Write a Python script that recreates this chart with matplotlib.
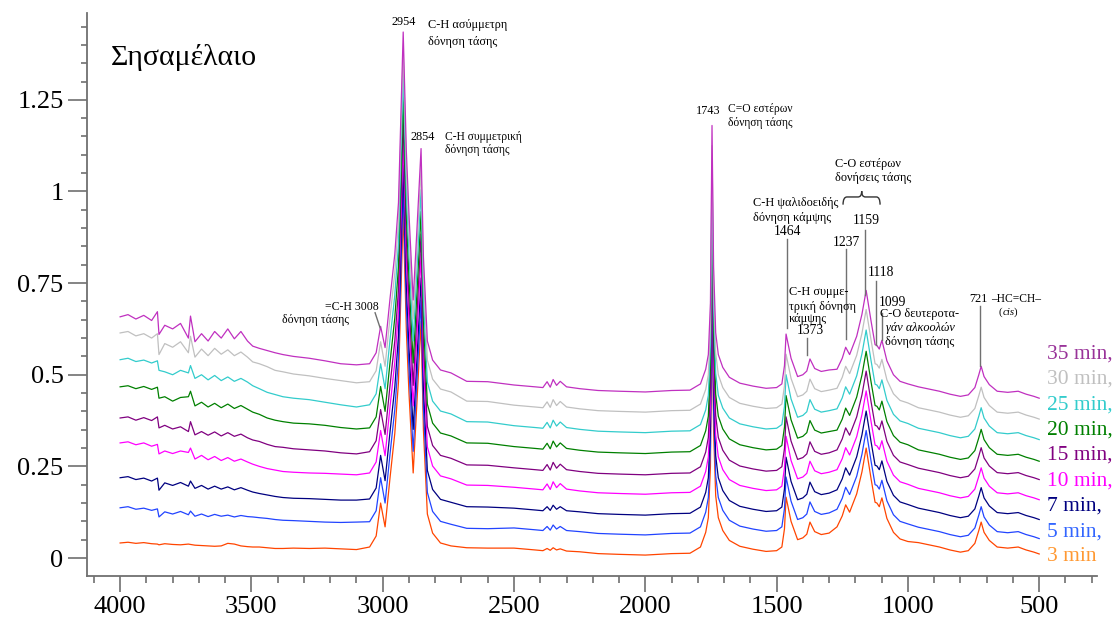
import matplotlib
matplotlib.use("Agg")
import matplotlib.pyplot as plt
from matplotlib.path import Path
from matplotlib.patches import PathPatch
from matplotlib.ticker import MultipleLocator

plt.rcParams['font.family'] = ['Liberation Serif', 'DejaVu Serif']

# wavenumbers (cm-1) shared by all spectra
wn = [4000, 3970, 3940, 3910, 3880, 3858, 3852, 3830, 3800, 3770, 3740, 3732, 3715,
      3690, 3665, 3640, 3615, 3590, 3565, 3540, 3515, 3495, 3470, 3440, 3410, 3380,
      3340, 3280, 3220, 3160, 3100,
      3050, 3025, 3008, 2991, 2972, 2954, 2940, 2922, 2910, 2900,
      2884, 2870, 2854, 2845, 2830, 2810, 2780, 2740, 2680, 2600,
      2500, 2420, 2390, 2374, 2362, 2351, 2338, 2324, 2300, 2250,
      2180, 2100, 2000, 1900, 1830, 1790, 1770, 1760, 1752, 1746,
      1740, 1732, 1722, 1705, 1680, 1640, 1590, 1540, 1500, 1480,
      1470, 1464, 1445, 1420, 1400, 1385, 1373, 1355, 1330, 1300,
      1270, 1250, 1237, 1222, 1195, 1175, 1159, 1140, 1125, 1118,
      1109, 1099, 1080, 1055, 1030, 1000, 960, 920, 880, 840,
      800, 770, 745, 730, 721, 710, 690, 660, 620, 580,
      550, 520, 500]

a35 = [0.658, 0.664, 0.652, 0.662, 0.648, 0.672, 0.610, 0.635, 0.625, 0.640, 0.600, 0.660, 0.590,
       0.612, 0.592, 0.618, 0.600, 0.625, 0.598, 0.618, 0.592, 0.578, 0.572, 0.566, 0.560, 0.555,
       0.550, 0.545, 0.538, 0.530, 0.527,
       0.530, 0.560, 0.632, 0.574, 0.709, 0.829, 0.969, 1.435, 1.109, 0.939,
       0.704, 0.892, 1.117, 0.822, 0.592, 0.540, 0.513, 0.505, 0.482, 0.481,
       0.472, 0.467, 0.465, 0.481, 0.466, 0.487, 0.471, 0.482, 0.467, 0.462,
       0.457, 0.455, 0.453, 0.457, 0.458, 0.475, 0.515, 0.555, 0.695, 1.180,
       0.795, 0.615, 0.555, 0.520, 0.493, 0.477, 0.469, 0.463, 0.465, 0.475,
       0.525, 0.611, 0.545, 0.495, 0.500, 0.510, 0.543, 0.517, 0.509, 0.513,
       0.515, 0.545, 0.575, 0.555, 0.605, 0.665, 0.730, 0.645, 0.582, 0.580,
       0.570, 0.594, 0.538, 0.500, 0.482, 0.475, 0.467, 0.461, 0.455, 0.447,
       0.441, 0.445, 0.465, 0.500, 0.523, 0.495, 0.473, 0.455, 0.452, 0.455,
       0.447, 0.441, 0.436]

a30 = [0.614, 0.618, 0.606, 0.612, 0.600, 0.612, 0.555, 0.585, 0.575, 0.590, 0.560, 0.605, 0.548,
       0.570, 0.552, 0.572, 0.556, 0.568, 0.552, 0.562, 0.548, 0.535, 0.530, 0.522, 0.512, 0.508,
       0.502, 0.497, 0.490, 0.484, 0.478,
       0.481, 0.511, 0.590, 0.523, 0.658, 0.778, 0.918, 1.384, 1.058, 0.888,
       0.652, 0.840, 1.065, 0.770, 0.540, 0.488, 0.461, 0.453, 0.428, 0.427,
       0.417, 0.412, 0.410, 0.426, 0.411, 0.432, 0.416, 0.427, 0.412, 0.407,
       0.402, 0.400, 0.398, 0.402, 0.403, 0.420, 0.460, 0.500, 0.640, 1.125,
       0.740, 0.560, 0.500, 0.465, 0.438, 0.422, 0.414, 0.408, 0.410, 0.420,
       0.470, 0.556, 0.490, 0.440, 0.445, 0.455, 0.488, 0.462, 0.454, 0.458,
       0.463, 0.493, 0.523, 0.503, 0.553, 0.613, 0.678, 0.593, 0.530, 0.528,
       0.518, 0.542, 0.486, 0.448, 0.430, 0.423, 0.410, 0.404, 0.398, 0.390,
       0.384, 0.388, 0.408, 0.443, 0.466, 0.438, 0.416, 0.398, 0.395, 0.398,
       0.390, 0.384, 0.379]

a25 = [0.541, 0.545, 0.536, 0.540, 0.532, 0.538, 0.512, 0.508, 0.500, 0.512, 0.505, 0.525, 0.490,
       0.500, 0.486, 0.498, 0.484, 0.494, 0.482, 0.490, 0.480, 0.470, 0.462, 0.452, 0.446, 0.440,
       0.436, 0.432, 0.425, 0.418, 0.412,
       0.418, 0.448, 0.530, 0.462, 0.597, 0.717, 0.857, 1.323, 0.997, 0.827,
       0.592, 0.780, 1.005, 0.710, 0.480, 0.428, 0.401, 0.393, 0.372, 0.371,
       0.361, 0.356, 0.354, 0.370, 0.355, 0.376, 0.360, 0.371, 0.356, 0.351,
       0.346, 0.344, 0.342, 0.346, 0.347, 0.364, 0.404, 0.444, 0.584, 1.069,
       0.684, 0.504, 0.444, 0.409, 0.382, 0.366, 0.358, 0.352, 0.354, 0.364,
       0.414, 0.500, 0.434, 0.384, 0.389, 0.399, 0.432, 0.406, 0.398, 0.402,
       0.407, 0.437, 0.467, 0.447, 0.497, 0.557, 0.622, 0.537, 0.474, 0.472,
       0.462, 0.486, 0.430, 0.392, 0.374, 0.367, 0.354, 0.348, 0.342, 0.334,
       0.328, 0.332, 0.352, 0.387, 0.410, 0.382, 0.360, 0.342, 0.339, 0.342,
       0.334, 0.328, 0.323]

a20 = [0.467, 0.470, 0.462, 0.468, 0.460, 0.466, 0.436, 0.440, 0.428, 0.438, 0.440, 0.455, 0.415,
       0.425, 0.412, 0.422, 0.410, 0.420, 0.408, 0.416, 0.406, 0.398, 0.392, 0.382, 0.376, 0.372,
       0.368, 0.366, 0.362, 0.356, 0.352,
       0.355, 0.385, 0.468, 0.400, 0.535, 0.655, 0.795, 1.261, 0.935, 0.765,
       0.532, 0.720, 0.945, 0.650, 0.420, 0.368, 0.341, 0.333, 0.314, 0.313,
       0.304, 0.299, 0.297, 0.313, 0.298, 0.319, 0.303, 0.314, 0.299, 0.294,
       0.289, 0.287, 0.285, 0.289, 0.290, 0.307, 0.347, 0.387, 0.527, 1.012,
       0.627, 0.447, 0.387, 0.352, 0.325, 0.309, 0.301, 0.295, 0.297, 0.307,
       0.357, 0.443, 0.377, 0.327, 0.332, 0.342, 0.375, 0.349, 0.341, 0.345,
       0.349, 0.379, 0.409, 0.389, 0.439, 0.499, 0.564, 0.479, 0.416, 0.414,
       0.404, 0.428, 0.372, 0.334, 0.316, 0.309, 0.295, 0.289, 0.283, 0.275,
       0.269, 0.273, 0.293, 0.328, 0.351, 0.323, 0.301, 0.283, 0.280, 0.283,
       0.275, 0.269, 0.264]

a15 = [0.382, 0.385, 0.376, 0.383, 0.375, 0.385, 0.355, 0.362, 0.352, 0.358, 0.345, 0.372, 0.336,
       0.345, 0.335, 0.344, 0.333, 0.342, 0.332, 0.338, 0.328, 0.322, 0.318, 0.310, 0.304, 0.302,
       0.298, 0.295, 0.292, 0.287, 0.284,
       0.290, 0.320, 0.405, 0.337, 0.472, 0.592, 0.732, 1.198, 0.872, 0.702,
       0.471, 0.659, 0.884, 0.589, 0.359, 0.307, 0.280, 0.272, 0.254, 0.253,
       0.246, 0.241, 0.239, 0.255, 0.240, 0.261, 0.245, 0.256, 0.241, 0.236,
       0.231, 0.229, 0.227, 0.231, 0.232, 0.249, 0.289, 0.329, 0.469, 0.954,
       0.569, 0.389, 0.329, 0.294, 0.267, 0.251, 0.243, 0.237, 0.239, 0.249,
       0.299, 0.385, 0.319, 0.269, 0.274, 0.284, 0.317, 0.291, 0.283, 0.287,
       0.295, 0.325, 0.355, 0.335, 0.385, 0.445, 0.510, 0.425, 0.362, 0.360,
       0.350, 0.374, 0.318, 0.280, 0.262, 0.255, 0.245, 0.239, 0.233, 0.225,
       0.219, 0.223, 0.243, 0.278, 0.301, 0.273, 0.251, 0.233, 0.230, 0.233,
       0.225, 0.219, 0.214]

a10 = [0.314, 0.317, 0.309, 0.314, 0.305, 0.310, 0.284, 0.292, 0.285, 0.292, 0.288, 0.300, 0.270,
       0.280, 0.268, 0.277, 0.266, 0.274, 0.264, 0.270, 0.262, 0.256, 0.250, 0.244, 0.240, 0.236,
       0.234, 0.232, 0.231, 0.229, 0.227,
       0.232, 0.262, 0.348, 0.279, 0.414, 0.534, 0.674, 1.140, 0.814, 0.644,
       0.415, 0.603, 0.828, 0.533, 0.303, 0.251, 0.224, 0.216, 0.199, 0.198,
       0.193, 0.188, 0.186, 0.202, 0.187, 0.208, 0.192, 0.203, 0.188, 0.183,
       0.178, 0.176, 0.174, 0.178, 0.179, 0.196, 0.236, 0.276, 0.416, 0.901,
       0.516, 0.336, 0.276, 0.241, 0.214, 0.198, 0.190, 0.184, 0.186, 0.196,
       0.246, 0.332, 0.266, 0.216, 0.221, 0.231, 0.264, 0.238, 0.230, 0.234,
       0.241, 0.271, 0.301, 0.281, 0.331, 0.391, 0.456, 0.371, 0.308, 0.306,
       0.296, 0.320, 0.264, 0.226, 0.208, 0.201, 0.190, 0.184, 0.178, 0.170,
       0.164, 0.168, 0.188, 0.223, 0.246, 0.218, 0.196, 0.178, 0.175, 0.178,
       0.170, 0.164, 0.159]

a7 = [0.219, 0.222, 0.214, 0.218, 0.210, 0.218, 0.185, 0.205, 0.198, 0.206, 0.196, 0.210, 0.190,
      0.198, 0.188, 0.196, 0.188, 0.194, 0.186, 0.192, 0.185, 0.180, 0.176, 0.172, 0.168, 0.165,
      0.163, 0.162, 0.160, 0.158, 0.158,
      0.161, 0.191, 0.280, 0.211, 0.346, 0.466, 0.606, 1.072, 0.746, 0.576,
      0.351, 0.539, 0.764, 0.469, 0.239, 0.187, 0.160, 0.152, 0.140, 0.139,
      0.136, 0.131, 0.129, 0.140, 0.130, 0.144, 0.133, 0.140, 0.129, 0.126,
      0.121, 0.119, 0.117, 0.121, 0.122, 0.139, 0.179, 0.219, 0.359, 0.844,
      0.459, 0.279, 0.219, 0.184, 0.157, 0.141, 0.133, 0.127, 0.129, 0.139,
      0.189, 0.275, 0.209, 0.159, 0.164, 0.174, 0.207, 0.181, 0.173, 0.177,
      0.186, 0.216, 0.246, 0.226, 0.276, 0.336, 0.401, 0.316, 0.253, 0.251,
      0.241, 0.265, 0.209, 0.171, 0.153, 0.146, 0.136, 0.130, 0.124, 0.116,
      0.110, 0.114, 0.134, 0.169, 0.192, 0.164, 0.142, 0.124, 0.121, 0.124,
      0.116, 0.110, 0.105]

a5 = [0.137, 0.140, 0.133, 0.136, 0.130, 0.134, 0.112, 0.126, 0.120, 0.127, 0.118, 0.128, 0.114,
      0.120, 0.113, 0.119, 0.114, 0.117, 0.112, 0.116, 0.113, 0.112, 0.110, 0.108, 0.105, 0.103,
      0.102, 0.100, 0.098, 0.097, 0.098,
      0.099, 0.129, 0.219, 0.150, 0.285, 0.405, 0.545, 1.011, 0.685, 0.515,
      0.291, 0.479, 0.704, 0.409, 0.179, 0.127, 0.100, 0.092, 0.081, 0.080,
      0.082, 0.077, 0.075, 0.086, 0.076, 0.090, 0.079, 0.086, 0.075, 0.072,
      0.067, 0.065, 0.063, 0.067, 0.068, 0.085, 0.125, 0.165, 0.305, 0.790,
      0.405, 0.225, 0.165, 0.130, 0.103, 0.087, 0.079, 0.073, 0.075, 0.085,
      0.135, 0.221, 0.155, 0.105, 0.110, 0.120, 0.153, 0.127, 0.119, 0.123,
      0.133, 0.163, 0.193, 0.173, 0.223, 0.283, 0.348, 0.263, 0.200, 0.198,
      0.188, 0.212, 0.156, 0.118, 0.100, 0.093, 0.084, 0.078, 0.072, 0.064,
      0.058, 0.062, 0.082, 0.117, 0.140, 0.112, 0.090, 0.072, 0.069, 0.072,
      0.064, 0.058, 0.053]

a3 = [0.041, 0.043, 0.040, 0.042, 0.039, 0.038, 0.036, 0.039, 0.037, 0.036, 0.038, 0.037, 0.035,
      0.034, 0.033, 0.032, 0.033, 0.040, 0.038, 0.033, 0.031, 0.030, 0.030, 0.028, 0.026, 0.026,
      0.027, 0.026, 0.027, 0.025, 0.023,
      0.030, 0.060, 0.150, 0.085, 0.220, 0.340, 0.480, 0.946, 0.620, 0.450,
      0.232, 0.420, 0.645, 0.350, 0.120, 0.068, 0.041, 0.033, 0.028, 0.027,
      0.027, 0.022, 0.020, 0.026, 0.021, 0.028, 0.022, 0.025, 0.019, 0.017,
      0.012, 0.010, 0.008, 0.012, 0.013, 0.030, 0.070, 0.110, 0.250, 0.735,
      0.350, 0.170, 0.110, 0.075, 0.048, 0.032, 0.024, 0.018, 0.020, 0.030,
      0.080, 0.166, 0.100, 0.050, 0.055, 0.065, 0.098, 0.072, 0.064, 0.068,
      0.085, 0.115, 0.145, 0.125, 0.175, 0.235, 0.300, 0.215, 0.152, 0.150,
      0.140, 0.164, 0.108, 0.070, 0.052, 0.045, 0.042, 0.036, 0.030, 0.022,
      0.016, 0.020, 0.040, 0.075, 0.098, 0.070, 0.048, 0.030, 0.027, 0.030,
      0.022, 0.016, 0.011]

labels = ["3 min", "5 min,", "7 min,", "10 min,", "15 min,", "20 min,", "25 min,", "30 min,", "35 min,"]
spectra = [a3, a5, a7, a10, a15, a20, a25, a30, a35]
line_colors = ["#FF4500", "#2244FF", "#000080", "#FF00FF", "#800080",
               "#008000", "#33CCCC", "#C0C0C0", "#C030C0"]
label_colors = ["#FF9933", "#3366FF", "#000080", "#FF00FF", "#800080",
                "#008000", "#33CCCC", "#C0C0C0", "#993399"]

fig = plt.figure(figsize=(11.13, 6.17), dpi=100)
ax = fig.add_axes([0.0782, 0.0665, 0.9074, 0.9125])

for vals, col in zip(spectra, line_colors):
    ax.plot(wn, vals, color=col, lw=0.9)

ax.set_xlim(4126, 280)
ax.set_ylim(-0.049, 1.487)

gray = "#707070"
for s in ["top", "right"]:
    ax.spines[s].set_visible(False)
for s in ["left", "bottom"]:
    ax.spines[s].set_color(gray)
    ax.spines[s].set_linewidth(1.3)

ax.set_xticks([4000, 3500, 3000, 2500, 2000, 1500, 1000, 500])
ax.set_xticklabels(["4000", "3500", "3000", "2500", "2000", "1500", "1000", "500"])
ax.xaxis.set_minor_locator(MultipleLocator(100))
ax.set_yticks([0, 0.25, 0.5, 0.75, 1, 1.25])
ax.set_yticklabels(["0", "0.25", "0.5", "0.75", "1", "1.25"])
ax.yaxis.set_minor_locator(MultipleLocator(0.05))
ax.tick_params(axis="x", which="major", length=11.5, width=1.2, color=gray, labelsize=19, pad=3)
ax.tick_params(axis="x", which="minor", length=5, width=1.2, color=gray)
ax.tick_params(axis="y", which="major", length=14, width=1.2, color=gray, labelsize=19, pad=3)
ax.tick_params(axis="y", which="minor", length=4.5, width=1.2, color=gray)

ax.text(0.024, 0.908, "Σησαμέλαιο", transform=ax.transAxes, fontsize=21.5, va="baseline")

# series labels on the right
for i, (lab, col) in enumerate(zip(labels, label_colors)):
    ax.text(0.9505, 0.0337 + 0.0451 * i, lab, transform=ax.transAxes, color=col,
            fontsize=15.5, va="center", ha="left", clip_on=False)

# band assignments
fs = 8.8
ax.text(2922, 1.463, "2954", fontsize=fs, ha="center", va="center")
ax.text(2827, 1.455, "C-H ασύμμετρη", fontsize=fs, ha="left", va="center")
ax.text(2827, 1.408, "δόνηση τάσης", fontsize=fs, ha="left", va="center")
ax.text(2846, 1.149, "2854", fontsize=fs, ha="center", va="center")
ax.text(2763, 1.149, "C-H συμμετρική", fontsize=fs - 0.5, ha="left", va="center")
ax.text(2763, 1.113, "δόνηση τάσης", fontsize=fs - 0.5, ha="left", va="center")

ax.text(3016, 0.685, "=C-H 3008", fontsize=fs - 0.3, ha="right", va="center")
ax.text(3130, 0.650, "δόνηση τάσης", fontsize=fs - 0.3, ha="right", va="center")
ax.plot([3029, 3010], [0.669, 0.628], color=gray, lw=1)

ax.text(1759, 1.219, "1743", fontsize=fs, ha="center", va="center")
ax.text(1685, 1.226, "C=O εστέρων", fontsize=fs - 0.5, ha="left", va="center")
ax.text(1685, 1.188, "δόνηση τάσης", fontsize=fs - 0.5, ha="left", va="center")

ax.text(1590, 0.969, "C-H ψαλιδοειδής", fontsize=fs, ha="left", va="center")
ax.text(1590, 0.928, "δόνηση κάμψης", fontsize=fs, ha="left", va="center")
ax.text(1457, 0.892, "1464", fontsize=fs + 1, ha="center", va="center")
ax.plot([1462, 1462], [0.871, 0.628], color=gray, lw=1)

ax.text(1453, 0.726, "C-H συμμε-", fontsize=fs, ha="left", va="center")
ax.text(1453, 0.686, "τρική δόνηση", fontsize=fs, ha="left", va="center")
ax.text(1453, 0.652, "κάμψης", fontsize=fs, ha="left", va="center")
ax.text(1373, 0.620, "1373", fontsize=fs + 1, ha="center", va="center")
ax.plot([1384, 1384], [0.600, 0.554], color=gray, lw=1)

ax.text(1277, 1.075, "C-O εστέρων", fontsize=fs, ha="left", va="center")
ax.text(1277, 1.037, "δονήσεις τάσης", fontsize=fs, ha="left", va="center")
brace = Path([(1247, 0.964), (1247, 0.985), (1232, 0.985), (1190, 0.985),
              (1176, 0.985), (1176, 1.001), (1176, 0.985), (1162, 0.985),
              (1120, 0.985), (1106, 0.985), (1106, 0.964)],
             [Path.MOVETO, Path.CURVE3, Path.CURVE3, Path.LINETO,
              Path.CURVE3, Path.CURVE3, Path.CURVE3, Path.CURVE3,
              Path.LINETO, Path.CURVE3, Path.CURVE3])
ax.add_patch(PathPatch(brace, fill=False, edgecolor="#333333", lw=1))

ax.text(1235, 0.862, "1237", fontsize=fs + 1, ha="center", va="center")
ax.plot([1236, 1236], [0.843, 0.598], color=gray, lw=1)
ax.text(1159, 0.922, "1159", fontsize=fs + 1, ha="center", va="center")
ax.plot([1163, 1163], [0.895, 0.718], color=gray, lw=1)
ax.text(1103, 0.778, "1118", fontsize=fs + 1, ha="center", va="center")
ax.plot([1122, 1122], [0.756, 0.582], color=gray, lw=1)
ax.text(1057, 0.696, "1099", fontsize=fs + 1, ha="center", va="center")
ax.plot([1099, 1099], [0.669, 0.596], color=gray, lw=1)
ax.text(954, 0.666, "C-O δευτεροτα-", fontsize=fs, ha="center", va="center")
ax.text(954, 0.628, "γάν αλκοολών", fontsize=fs, ha="center", va="center", style="italic")
ax.text(954, 0.590, "δόνηση τάσης", fontsize=fs, ha="center", va="center")

ax.text(695, 0.707, "721", fontsize=fs, ha="right", va="center")
ax.text(683, 0.707, "–HC=CH–", fontsize=fs - 0.5, ha="left", va="center")
ax.text(640, 0.671, "(", fontsize=fs - 1, ha="right", va="center")
ax.text(640, 0.671, "cis", fontsize=fs - 1, ha="left", va="center", style="italic")
ax.text(598, 0.671, ")", fontsize=fs - 1, ha="left", va="center")
ax.plot([724, 724], [0.688, 0.523], color=gray, lw=1)

fig.savefig("out.png", dpi=100)
